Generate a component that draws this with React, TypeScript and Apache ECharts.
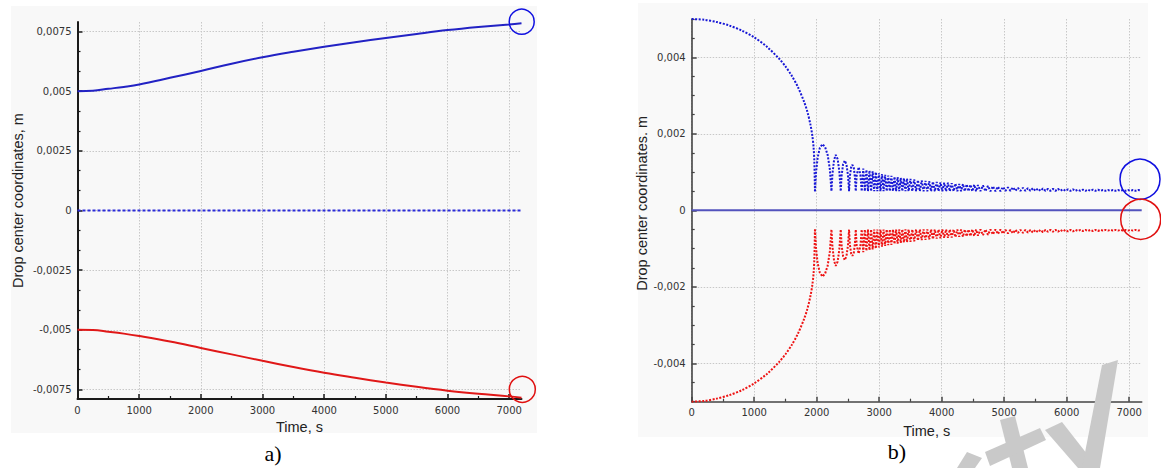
import React, { useEffect, useRef } from "react";
import * as echarts from "echarts";

// ---------- data ----------
const xTicks = [0, 1000, 2000, 3000, 4000, 5000, 6000, 7000];
const xMinorTicks = [500, 1500, 2500, 3500, 4500, 5500, 6500];

const yTicksA = [-0.0075, -0.005, -0.0025, 0, 0.0025, 0.005, 0.0075];
const yMinorA = [
  -0.0066667, -0.0058333, -0.0041667, -0.0033333, -0.0016667, -0.0008333,
  0.0008333, 0.0016667, 0.0033333, 0.0041667, 0.0058333, 0.0066667,
];
const yTicksB = [-0.004, -0.002, 0, 0.002, 0.004];
const yMinorB = [
  -0.005, -0.0045, -0.0035, -0.003, -0.0025, -0.0015, -0.001, -0.0005,
  0.0005, 0.001, 0.0015, 0.0025, 0.003, 0.0035, 0.0045, 0.005,
];

// chart a) — drop center coordinates vs time
const blueA: [number, number][] = [
  [0, 0.005], [250, 0.00502], [500, 0.0051], [750, 0.00518], [1000, 0.00528],
  [1500, 0.00556], [2000, 0.00585], [2500, 0.00615], [3000, 0.00642],
  [3500, 0.00665], [4000, 0.00686], [4500, 0.00705], [5000, 0.00723],
  [5500, 0.0074], [6000, 0.00756], [6500, 0.00769], [7000, 0.0078], [7200, 0.00785],
];
const redA: [number, number][] = [
  [0, -0.005], [250, -0.00501], [500, -0.00508], [750, -0.00516], [1000, -0.00526],
  [1500, -0.00549], [2000, -0.00576], [2500, -0.00603], [3000, -0.0063],
  [3500, -0.00656], [4000, -0.0068], [4500, -0.00701], [5000, -0.00721],
  [5500, -0.00739], [6000, -0.00755], [6500, -0.00768], [7000, -0.00779], [7200, -0.00785],
];
const zeroA: [number, number][] = [[0, 0], [7200, 0]];

// chart b) — falling branch before the first bounce
const blueBFall: [number, number][] = [
  [0, 0.005], [200, 0.00498], [400, 0.00492], [600, 0.00483], [800, 0.0047], [1000, 0.00452],
  [1200, 0.00428], [1400, 0.00396], [1500, 0.00376], [1600, 0.00352], [1700, 0.00322],
  [1800, 0.00283], [1850, 0.00258], [1900, 0.00224], [1930, 0.00195], [1950, 0.00165],
  [1962, 0.00128], [1972, 0.0005],
];
// bounces and the decaying band that follows
const blueBOsc: [number, number][] = [
  [1972, 0.0005],
  [1990, 0.001], [2015, 0.00138], [2050, 0.00163], [2092, 0.00173], [2135, 0.00165], [2175, 0.00145], [2210, 0.00108], [2236, 0.0005],
  [2252, 0.00095], [2278, 0.00132], [2305, 0.00145], [2335, 0.00134], [2362, 0.00102], [2385, 0.0005],
  [2398, 0.0009], [2422, 0.0012], [2449, 0.0013], [2476, 0.0012], [2500, 0.00092], [2518, 0.0005],
  [2530, 0.00088], [2550, 0.00112], [2572, 0.00119], [2595, 0.0011], [2612, 0.00085], [2625, 0.0005],
  [2640, 0.00092], [2672, 0.00113], [2700, 0.00092], [2720, 0.0005],
  [2745, 0.00109], [2770, 0.0005], [2795, 0.00106], [2820, 0.0005], [2845, 0.00104], [2870, 0.0005],
  [2895, 0.00102], [2920, 0.0005], [2945, 0.001], [2970, 0.0005], [2995, 0.00097], [3020, 0.0005],
  [3045, 0.00095], [3070, 0.0005], [3095, 0.00093], [3120, 0.0005], [3145, 0.00091], [3170, 0.0005],
  [3195, 0.0009], [3220, 0.0005], [3245, 0.00088], [3270, 0.0005], [3295, 0.00087], [3320, 0.0005],
  [3345, 0.00085], [3370, 0.0005], [3395, 0.00084], [3420, 0.0005], [3445, 0.00083], [3470, 0.0005],
  [3500, 0.00082], [3530, 0.0005], [3560, 0.00081], [3590, 0.0005], [3620, 0.00079], [3650, 0.0005],
  [3680, 0.00078], [3710, 0.0005], [3740, 0.00077], [3770, 0.0005], [3800, 0.00076], [3830, 0.0005],
  [3860, 0.00075], [3890, 0.0005], [3920, 0.00074], [3950, 0.0005], [3980, 0.00073], [4010, 0.0005],
  [4040, 0.00072], [4070, 0.0005], [4100, 0.00072], [4130, 0.0005], [4160, 0.00071], [4190, 0.0005],
  [4220, 0.0007], [4250, 0.0005], [4280, 0.00069], [4310, 0.0005], [4340, 0.00069], [4370, 0.0005],
  [4400, 0.00068], [4430, 0.0005], [4460, 0.00067], [4490, 0.0005], [4520, 0.00067], [4550, 0.0005],
  [4580, 0.00066], [4620, 0.0005], [4660, 0.00065], [4700, 0.0005],
  [4740, 0.00064], [4780, 0.0005], [4820, 0.00063], [4860, 0.0005], [4900, 0.00062], [4940, 0.0005],
  [4980, 0.00061], [5020, 0.00051], [5060, 0.0006], [5100, 0.00051], [5140, 0.0006], [5180, 0.00051],
  [5220, 0.00059], [5260, 0.00051], [5300, 0.00059], [5340, 0.00051], [5380, 0.00058], [5420, 0.00051],
  [5460, 0.00058], [5500, 0.00051], [5540, 0.00057], [5580, 0.00051], [5620, 0.00057], [5660, 0.00051],
  [5700, 0.00056], [5740, 0.00051], [5780, 0.00056], [5820, 0.00051], [5860, 0.00056], [5900, 0.00051],
  [5940, 0.00055], [5980, 0.00051], [6020, 0.00055], [6060, 0.00051], [6100, 0.00055], [6140, 0.00051],
  [6180, 0.00054], [6220, 0.00051], [6260, 0.00054], [6300, 0.00051], [6340, 0.00054], [6380, 0.00051],
  [6420, 0.00054], [6460, 0.00051], [6500, 0.00054], [6540, 0.00051], [6580, 0.00053], [6620, 0.00051],
  [6660, 0.00053], [6700, 0.00051], [6740, 0.00053], [6780, 0.00051], [6820, 0.00053], [6860, 0.00051],
  [6900, 0.00053], [6940, 0.00051], [6980, 0.00053], [7020, 0.00051], [7060, 0.00053], [7100, 0.00051],
  [7140, 0.00053], [7180, 0.00052],
];
// lower branch is the mirror image of the upper one in the picture
const redBFall: [number, number][] = blueBFall.map(([t, v]) => [t, -v]);
const redBOsc: [number, number][] = blueBOsc.map(([t, v]) => [t, -v]);
const zeroB: [number, number][] = [[0, 0], [7200, 0]];

// ---------- helpers ----------
const fmt = (v: number) => (v === 0 ? "0" : String(v).replace(".", ","));
const tickFont = { fontFamily: "DejaVu Sans", fontSize: 10, color: "#333" };
const nameFont = { fontFamily: "Liberation Sans", fontSize: 14.5, color: "#222" };
const gridLine = { show: true, lineStyle: { color: "#c8c8c8", type: [1.5, 1.5], width: 1 } };

function mainX(gridIndex: number, axisColor: string, axisWidth: number, nameGap: number, namePad: number[]) {
  return {
    type: "value", gridIndex, min: 0, max: 7200, position: "bottom",
    name: "Time, s", nameLocation: "middle", nameGap,
    nameTextStyle: { ...nameFont, padding: namePad },
    axisLine: { show: true, onZero: false, lineStyle: { color: axisColor, width: axisWidth } },
    axisTick: { show: true, inside: true, length: 5, customValues: xTicks, lineStyle: { color: axisColor, width: 1.5 } },
    axisLabel: { ...tickFont, margin: 6, customValues: xTicks, formatter: (v: number) => String(v) },
    splitLine: gridLine,
  };
}
function minorX(gridIndex: number, axisColor: string) {
  return {
    type: "value", gridIndex, min: 0, max: 7200, position: "bottom",
    axisLine: { show: false, onZero: false },
    axisTick: { show: true, inside: true, length: 3, customValues: xMinorTicks, lineStyle: { color: axisColor, width: 1.2 } },
    axisLabel: { show: false },
    splitLine: { show: false },
  };
}
function mainY(gridIndex: number, lim: number, ticks: number[], axisColor: string, axisWidth: number, name: string, nameGap: number, namePad: number[]) {
  return {
    type: "value", gridIndex, min: -lim, max: lim, position: "left",
    name, nameLocation: "middle", nameGap, nameRotate: 90,
    nameTextStyle: { ...nameFont, padding: namePad },
    axisLine: { show: true, onZero: false, lineStyle: { color: axisColor, width: axisWidth } },
    axisTick: { show: true, inside: true, length: 5, customValues: ticks, lineStyle: { color: axisColor, width: 1.5 } },
    axisLabel: { ...tickFont, margin: 6, customValues: ticks, formatter: fmt },
    splitLine: gridLine,
  };
}
function minorY(gridIndex: number, lim: number, ticks: number[], axisColor: string) {
  return {
    type: "value", gridIndex, min: -lim, max: lim, position: "left",
    axisLine: { show: false, onZero: false },
    axisTick: { show: true, inside: true, length: 3, customValues: ticks, lineStyle: { color: axisColor, width: 1.2 } },
    axisLabel: { show: false },
    splitLine: { show: false },
  };
}

const poly = (points: number[][]) => ({
  type: "polygon", z: 200, shape: { points }, style: { fill: "#c9c9c9" },
});
const circ = (cx: number, cy: number, r: number, color: string) => ({
  type: "circle", z: 150, shape: { cx, cy, r }, style: { fill: "none", stroke: color, lineWidth: 1.5 },
});

const dotted = (color: string) => ({ color, width: 2, type: [2, 1.5] });

const option: any = {
  animation: false,
  backgroundColor: "transparent",
  grid: [
    { left: 77.5, top: 22, width: 444, height: 377, containLabel: false },
    { left: 691.7, top: 19, width: 450, height: 382.7, containLabel: false },
  ],
  xAxis: [
    mainX(0, "#1a1a1a", 2, 19, [0, 0, 0, 0]),
    minorX(0, "#1a1a1a"),
    mainX(1, "#444", 1.6, 22, [0, 0, 0, 20]),
    minorX(1, "#444"),
  ],
  yAxis: [
    mainY(0, 0.0079, yTicksA, "#1a1a1a", 2, "Drop center coordinates, m", 52, [0, 0, 0, 20]),
    minorY(0, 0.0079, yMinorA, "#1a1a1a"),
    mainY(1, 0.005, yTicksB, "#444", 1.6, "Drop center coordinates. m", 40, [0, 0, 0, 14]),
    minorY(1, 0.005, yMinorB, "#444"),
  ],
  series: [
    { type: "line", xAxisIndex: 0, yAxisIndex: 0, data: zeroA, showSymbol: false, lineStyle: { color: "#2a2ad8", width: 2, type: [3, 2] }, z: 3 },
    { type: "line", xAxisIndex: 0, yAxisIndex: 0, data: blueA, smooth: 0.4, showSymbol: false, lineStyle: { color: "#2222c4", width: 2 }, z: 4 },
    { type: "line", xAxisIndex: 0, yAxisIndex: 0, data: redA, smooth: 0.4, showSymbol: false, lineStyle: { color: "#e01818", width: 2 }, z: 4 },
    { type: "line", xAxisIndex: 2, yAxisIndex: 2, data: zeroB, showSymbol: false, lineStyle: { color: "#5252bd", width: 2 }, z: 3 },
    { type: "line", xAxisIndex: 2, yAxisIndex: 2, data: blueBFall, smooth: 0.3, showSymbol: false, lineStyle: dotted("#1818d6"), z: 4 },
    { type: "line", xAxisIndex: 2, yAxisIndex: 2, data: blueBOsc, showSymbol: false, lineStyle: dotted("#1818d6"), z: 4 },
    { type: "line", xAxisIndex: 2, yAxisIndex: 2, data: redBFall, smooth: 0.3, showSymbol: false, lineStyle: dotted("#ee1414"), z: 4 },
    { type: "line", xAxisIndex: 2, yAxisIndex: 2, data: redBOsc, showSymbol: false, lineStyle: dotted("#ee1414"), z: 4 },
  ],
  graphic: [
    circ(521.7, 21.7, 12.5, "#1010e0"),
    circ(522.3, 389.3, 13, "#e01010"),
    circ(1140, 179.3, 20, "#1010e0"),
    circ(1140.7, 219.3, 20, "#e01010"),
    { type: "text", z: 150, x: 273, y: 453, style: { text: "a)", font: "22px 'Liberation Serif'", fill: "#000", textAlign: "center", textVerticalAlign: "middle" } },
    { type: "text", z: 150, x: 897, y: 451, style: { text: "b)", font: "22px 'Liberation Serif'", fill: "#000", textAlign: "center", textVerticalAlign: "middle" } },
    poly([[957, 468], [967, 452], [982, 458], [975, 468]]),
    poly([[1000, 420], [1015, 416], [1028, 468], [1012, 468]]),
    poly([[985, 452], [1040, 428], [1046, 440], [990, 466]]),
    poly([[1045, 430], [1062, 422], [1098, 468], [1078, 468]]),
    poly([[1102, 365], [1118, 360], [1100, 468], [1082, 468]]),
  ],
};

export default function App() {
  const ref = useRef<HTMLDivElement>(null);
  useEffect(() => {
    const chart = echarts.init(ref.current!, null, { renderer: "svg" });
    chart.setOption(option);
    return () => chart.dispose();
  }, []);
  return (
    <div style={{ position: "fixed", left: 0, top: 0, width: 1161, height: 468, background: "#fff" }}>
      <div style={{ position: "absolute", left: 11, top: 6, width: 526, height: 427, background: "#f8f8f8" }} />
      <div style={{ position: "absolute", left: 638, top: 3, width: 510, height: 434, background: "#f9f9f9" }} />
      <div ref={ref} style={{ position: "absolute", left: 0, top: 0, width: 1161, height: 468 }} />
    </div>
  );
}
